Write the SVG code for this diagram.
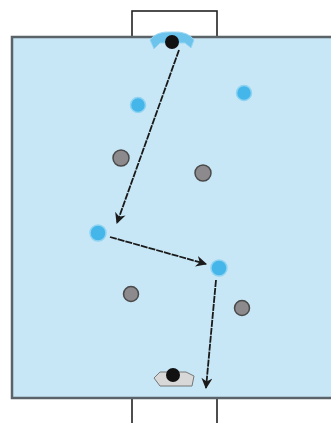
<svg xmlns="http://www.w3.org/2000/svg" width="331" height="423" viewBox="0 0 331 423">
<style>
.goal{fill:#fff;stroke:#222;stroke-width:1.6}
.field{fill:#c7e7f6;stroke:#5a6468;stroke-width:2.5}
.blue{fill:#45b6e9;stroke:#8fd3f2;stroke-width:1.5}
.gray{fill:#8c8a8c;stroke:#4a4a4a;stroke-width:1.5}
.arr{stroke:#1a1a1a;stroke-width:1.8;fill:none;stroke-dasharray:7 1;marker-end:url(#ah)}
</style>
<defs>
<marker id="ah" viewBox="0 0 10 10" refX="9" refY="5" markerWidth="13" markerHeight="11" orient="auto" markerUnits="userSpaceOnUse">
<path d="M0,0 L10,5 L0,10 L3,5 z" fill="#1a1a1a"/>
</marker>
</defs>
<rect width="331" height="423" fill="#fff"/>
<g id="goal-top"><rect class="goal" x="132" y="11" width="85" height="27"/></g>
<g id="goal-bottom"><rect class="goal" x="132" y="398" width="85" height="30"/></g>
<g id="field"><rect class="field" x="12" y="37" width="330" height="361"/></g>
<g id="keeper-top">
<path d="M150,40 Q156,31 172,32 Q188,31 194,40 L191,48 L185,43 L160,43 L154,49 Z" fill="#6cc4ec" stroke="#9ad6f2" stroke-width="1"/>
<circle cx="172" cy="42" r="7" fill="#111"/>
</g>
<g id="keeper-bottom">
<path d="M154,378 L160,372 L186,372 L194,376 L192,386 L160,386 Z" fill="#d8d8d8" stroke="#777" stroke-width="1"/>
<circle cx="173" cy="375" r="7" fill="#111"/>
</g>
<g id="blue1"><circle class="blue" cx="138" cy="105" r="7.5"/></g>
<g id="blue2"><circle class="blue" cx="244" cy="93" r="7.5"/></g>
<g id="blue3"><circle class="blue" cx="98" cy="233" r="8"/></g>
<g id="blue4"><circle class="blue" cx="219" cy="268" r="8"/></g>
<g id="gray1"><circle class="gray" cx="121" cy="158" r="8"/></g>
<g id="gray2"><circle class="gray" cx="203" cy="173" r="8"/></g>
<g id="gray3"><circle class="gray" cx="131" cy="294" r="7.5"/></g>
<g id="gray4"><circle class="gray" cx="242" cy="308" r="7.5"/></g>
<g id="connectors">
<path class="arr" d="M179,50 L117,223"/>
<path class="arr" d="M110,237 L206,264"/>
<path class="arr" d="M216,280 L206,388"/>
</g>
</svg>
